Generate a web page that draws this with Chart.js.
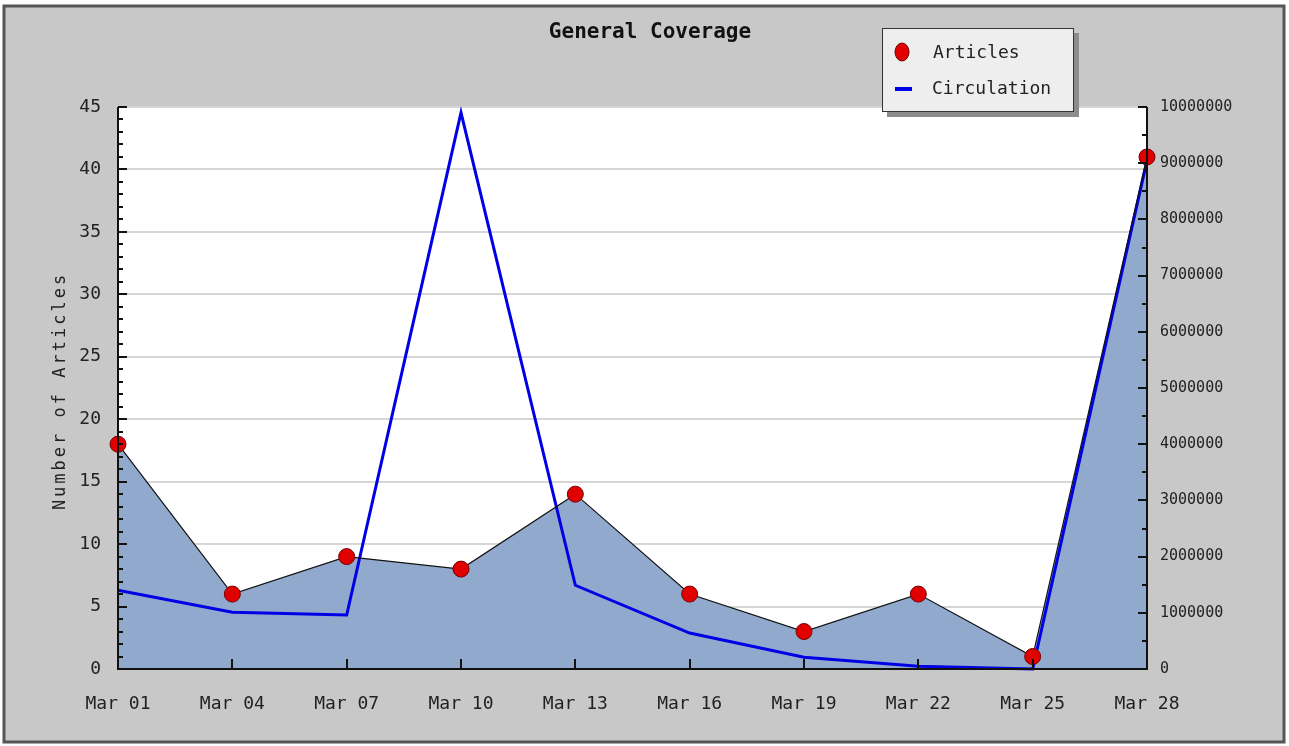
<!DOCTYPE html>
<html>
<head>
<meta charset="utf-8">
<script src="https://cdn.jsdelivr.net/npm/chart.js@4"></script>
<style>
  body { margin: 0; background: #fff; }
</style>
</head>
<body>
<canvas id="myChart" width="1289" height="746"></canvas>
<script>
// chart data
const labels = ['Mar 01', 'Mar 04', 'Mar 07', 'Mar 10', 'Mar 13', 'Mar 16', 'Mar 19', 'Mar 22', 'Mar 25', 'Mar 28'];
const articles = [18, 6, 9, 8, 14, 6, 3, 6, 1, 41];
const circulation = [1400000, 1010000, 960000, 9900000, 1490000, 640000, 210000, 50000, 0, 9050000];

const MONO = '"DejaVu Sans Mono", "Liberation Mono", monospace';

// gray frame, white plot, inward ticks, title and legend box
const decorPlugin = {
    id: 'decor',
    beforeDraw(chart) {
        const ctx = chart.ctx;
        const a = chart.chartArea;
        ctx.save();
        ctx.fillStyle = '#fff';
        ctx.fillRect(0, 0, chart.width, chart.height);
        ctx.fillStyle = '#c8c8c8';
        ctx.fillRect(4, 6, 1280, 736);
        ctx.strokeStyle = '#555';
        ctx.lineWidth = 3;
        ctx.strokeRect(4, 6, 1280, 736);
        ctx.fillStyle = '#fff';
        ctx.fillRect(a.left, a.top, a.right - a.left, a.bottom - a.top);
        ctx.restore();
    },
    afterDraw(chart) {
        const ctx = chart.ctx;
        const a = chart.chartArea;
        const y = chart.scales.y, y1 = chart.scales.y1, x = chart.scales.x;
        ctx.save();
        ctx.strokeStyle = '#111';
        ctx.lineWidth = 2;
        ctx.beginPath();
        ctx.moveTo(a.left, a.top); ctx.lineTo(a.left, a.bottom); ctx.lineTo(a.right, a.bottom); ctx.lineTo(a.right, a.top);
        ctx.stroke();

        ctx.lineWidth = 2;
        ctx.beginPath();
        for (let v = 0; v <= 45; v++) {
            const py = Math.round(y.getPixelForValue(v));
            const len = v % 5 === 0 ? 9 : 5;
            ctx.moveTo(a.left, py); ctx.lineTo(a.left + len, py);
        }
        for (let v = 0; v <= 10000000; v += 500000) {
            const py = Math.round(y1.getPixelForValue(v));
            const len = v % 1000000 === 0 ? 9 : 5;
            ctx.moveTo(a.right, py); ctx.lineTo(a.right - len, py);
        }
        labels.forEach((l, i) => {
            const px = Math.round(x.getPixelForValue(i));
            ctx.moveTo(px, a.bottom); ctx.lineTo(px, a.bottom - 10);
        });
        ctx.stroke();

        // title
        ctx.fillStyle = '#111';
        ctx.font = 'bold 21px ' + MONO;
        ctx.textAlign = 'center';
        ctx.textBaseline = 'middle';
        ctx.fillText('General Coverage', 650, 33);

        // y axis title
        ctx.save();
        ctx.translate(61, 391);
        ctx.rotate(-Math.PI / 2);
        ctx.font = '17px ' + MONO;
        ctx.letterSpacing = '3px';
        ctx.fillStyle = '#222';
        ctx.fillText('Number of Articles', 0, 0);
        ctx.restore();

        // legend
        ctx.fillStyle = '#8c8c8c';
        ctx.fillRect(887, 33, 192, 84);
        ctx.fillStyle = '#eeeeee';
        ctx.fillRect(882, 28, 192, 84);
        ctx.strokeStyle = '#333';
        ctx.lineWidth = 1;
        ctx.strokeRect(882.5, 28.5, 191, 83);
        ctx.beginPath();
        ctx.ellipse(902, 52, 7, 9, 0, 0, Math.PI * 2);
        ctx.fillStyle = '#e00000';
        ctx.fill();
        ctx.strokeStyle = '#700';
        ctx.stroke();
        ctx.fillStyle = '#0000e6';
        ctx.fillRect(895, 87, 17, 4);
        ctx.fillStyle = '#222';
        ctx.font = '18px ' + MONO;
        ctx.textAlign = 'left';
        ctx.fillText('Articles', 933, 53);
        ctx.fillText('Circulation', 932, 89);
        ctx.restore();
    }
};

const ctx = document.getElementById('myChart').getContext('2d');

const myChart = new Chart(ctx, {
    type: 'line',
    data: {
        labels: labels,
        datasets: [{
            label: 'Articles',
            data: articles,
            yAxisID: 'y',
            borderColor: '#111',
            borderWidth: 1.2,
            backgroundColor: '#91a9cd',
            fill: 'origin',
            tension: 0,
            pointRadius: 8,
            pointBackgroundColor: '#e00000',
            pointBorderColor: '#700',
            pointBorderWidth: 1,
            clip: false
        }, {
            label: 'Circulation',
            data: circulation,
            yAxisID: 'y1',
            borderColor: '#0000e6',
            borderWidth: 3,
            fill: false,
            tension: 0,
            pointRadius: 0,
            clip: false
        }]
    },
    options: {
        responsive: false,
        animation: false,
        layout: { padding: { top: 107, left: 0, right: 0, bottom: 0 } },
        scales: {
            x: {
                offset: false,
                grid: { display: false, drawTicks: false },
                border: { display: false },
                ticks: {
                    font: { family: MONO, size: 18 },
                    color: '#222',
                    padding: 25,
                    maxRotation: 0,
                    autoSkip: false
                },
                afterFit: s => { s.height = 77; }
            },
            y: {
                position: 'left',
                min: 0,
                max: 45,
                grid: { color: '#d6d6d6', lineWidth: 2, drawTicks: false },
                border: { display: false },
                ticks: {
                    stepSize: 5,
                    font: { family: MONO, size: 18 },
                    color: '#222',
                    padding: 17
                },
                afterFit: s => { s.width = 118; }
            },
            y1: {
                position: 'right',
                min: 0,
                max: 10000000,
                grid: { drawOnChartArea: false, drawTicks: false },
                border: { display: false },
                ticks: {
                    stepSize: 1000000,
                    font: { family: MONO, size: 15 },
                    color: '#222',
                    padding: 13,
                    callback: v => String(v)
                },
                afterFit: s => { s.width = 142; }
            }
        },
        plugins: {
            legend: { display: false },
            title: { display: false },
            tooltip: { enabled: false },
            filler: { drawTime: 'beforeDatasetsDraw' }
        }
    },
    plugins: [decorPlugin]
});
</script>
</body>
</html>
